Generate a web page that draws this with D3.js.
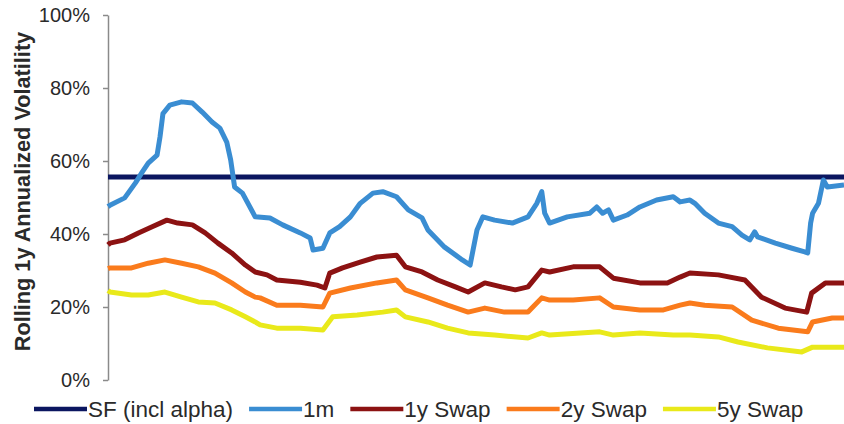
<!DOCTYPE html>
<html>
<head>
<meta charset="utf-8">
<script src="https://cdn.jsdelivr.net/npm/d3@7"></script>
<style>
  html, body { margin: 0; padding: 0; background: #fff; }
  svg { display: block; font-family: "Liberation Sans", Arial, sans-serif; }
</style>
</head>
<body>
<svg id="chart" width="844" height="424"></svg>
<script>
// Rolling 1y annualized volatility, trading-day index on the x axis
const seriesNames = ["SF (incl alpha)", "1m", "1y Swap", "2y Swap", "5y Swap"];
const seriesColors = ["#0b1660", "#3a8dd2", "#8c1212", "#fa7b1c", "#e9e91a"];

const sfLevel = 55.6;

const oneMDays = [0, 2, 17, 28, 35, 41, 50, 53, 56, 63, 75, 86, 96, 106, 114, 121, 125, 129, 137, 150,
  165, 178, 196, 206, 209, 219, 226, 236, 247, 257, 270, 280, 294, 306, 320, 326, 343, 361, 369, 376,
  382, 394, 412, 428, 437, 442, 445, 450, 468, 491, 498, 504, 510, 515, 529, 542, 559, 576, 583, 593,
  598, 608, 622, 636, 646, 654, 659, 662, 680, 697, 710, 713, 716, 718, 724, 729, 733, 750];
const oneMVals = [47.5, 47.9, 49.9, 54, 57, 59.4, 61.6, 66.6, 73, 75.3, 76.2, 75.9, 73.4, 70.7, 69, 65.2, 60.3, 52.9, 51.2, 44.7,
  44.4, 42.5, 40.3, 38.9, 35.6, 36.1, 40.3, 42, 44.7, 48.4, 51.2, 51.6, 50.2, 46.6, 44.4, 41.1, 36.4, 32.9, 31.5, 41.1,
  44.7, 43.8, 43, 44.7, 48.4, 51.6, 45.7, 43, 44.7, 45.7, 47.4, 45.7, 46.6, 43.8, 45.2, 47.4, 49.3, 50.2, 48.8, 49.3,
  48.4, 45.7, 43, 42, 39.7, 38.4, 40.6, 39.2, 37.5, 36.1, 35.1, 34.8, 43, 45.7, 48.4, 54.8, 52.9, 53.4];

const swap1yDays = [0, 2, 17, 31, 45, 60, 71, 86, 99, 112, 126, 140, 150, 162, 172, 196, 213, 221, 226, 239,
  257, 274, 294, 303, 320, 336, 354, 367, 384, 401, 415, 428, 442, 450, 474, 501, 515, 542, 570, 583,
  593, 622, 649, 666, 690, 712, 717, 731, 750];
const swap1yVals = [37, 37.5, 38.4, 40.3, 42, 43.8, 43, 42.5, 40.3, 37.5, 34.8, 31.5, 29.6, 28.8, 27.4, 26.8, 26, 25.2, 29.3, 30.7,
  32.3, 33.7, 34.2, 31, 29.6, 27.4, 25.5, 24.1, 26.6, 25.5, 24.7, 25.5, 30.1, 29.6, 31, 31, 27.9, 26.6, 26.6, 28.2,
  29.3, 28.8, 27.4, 22.7, 19.7, 18.6, 23.8, 26.6, 26.6];

const swap2yDays = [0, 2, 24, 41, 58, 75, 92, 109, 126, 140, 150, 155, 172, 196, 219, 226, 247, 274, 294, 303,
  326, 346, 367, 384, 404, 428, 442, 450, 474, 501, 515, 542, 566, 583, 593, 608, 636, 656, 683, 713,
  718, 738, 750];
const swap2yVals = [30.5, 30.7, 30.7, 32, 32.9, 32, 31, 29.3, 26.6, 24.1, 22.7, 22.5, 20.5, 20.5, 20, 23.8, 25.2, 26.6, 27.4, 24.7,
  22.5, 20.5, 18.6, 19.7, 18.6, 18.6, 22.5, 21.9, 21.9, 22.5, 20, 19.2, 19.2, 20.5, 21.1, 20.5, 20, 16.4, 14.2, 13.2,
  15.9, 17, 17];

const swap5yDays = [0, 2, 24, 41, 58, 75, 92, 109, 126, 140, 150, 155, 172, 196, 219, 229, 254, 280, 294, 303,
  326, 346, 367, 394, 428, 442, 450, 501, 515, 542, 576, 593, 622, 642, 672, 707, 718, 750];
const swap5yVals = [24.5, 24.1, 23.3, 23.3, 24.1, 22.7, 21.4, 21.1, 19.2, 17.3, 15.9, 15.1, 14.2, 14.2, 13.7, 17.3, 17.8, 18.6, 19.2, 17.3,
  15.9, 14.2, 12.9, 12.3, 11.5, 12.9, 12.3, 13.2, 12.3, 12.9, 12.3, 12.3, 11.8, 10.4, 8.8, 7.7, 9, 9];

const yTicks = [0, 20, 40, 60, 80, 100];
const yTitle = "Rolling 1y Annualized Volatility";

const svg = d3.select("#chart");
const x = d3.scaleLinear().domain([0, 750]).range([108, 844]);
const y = d3.scaleLinear().domain([0, 100]).range([380, 15]);

// y axis
const yAxis = svg.append("g")
  .attr("transform", `translate(${x(0)},0)`)
  .call(d3.axisLeft(y).tickValues(yTicks).tickFormat(d => d + "%").tickSize(5).tickSizeOuter(0).tickPadding(13));
yAxis.select(".domain").attr("stroke", "#8a8a8a").attr("stroke-width", 1.5);
yAxis.selectAll(".tick line").attr("stroke", "#8a8a8a").attr("stroke-width", 1.5);
yAxis.selectAll(".tick text")
  .attr("font-size", 20)
  .attr("fill", "#2a2a2a")
  .attr("font-family", "'Liberation Sans', Arial, sans-serif");

svg.append("text")
  .attr("transform", `translate(22,191.5) rotate(-90)`)
  .attr("text-anchor", "middle")
  .attr("dominant-baseline", "central")
  .attr("font-size", 21.7)
  .attr("font-weight", "bold")
  .attr("fill", "#2a2a2a")
  .text(yTitle);

// series lines
const line = d3.line().x(d => x(d[0])).y(d => y(d[1]));
const seriesData = [
  [[0, sfLevel], [750, sfLevel]],
  d3.zip(oneMDays, oneMVals),
  d3.zip(swap1yDays, swap1yVals),
  d3.zip(swap2yDays, swap2yVals),
  d3.zip(swap5yDays, swap5yVals)
];
const drawOrder = [4, 3, 2, 0, 1];
drawOrder.forEach(i => {
  svg.append("path")
    .datum(seriesData[i])
    .attr("fill", "none")
    .attr("stroke", seriesColors[i])
    .attr("stroke-width", 5)
    .attr("stroke-linejoin", "round")
    .attr("d", line);
});

// legend
const legendY = 409;
const swatch = 53;
let lx = 34;
seriesNames.forEach((name, i) => {
  const g = svg.append("g");
  g.append("line")
    .attr("x1", lx).attr("x2", lx + swatch)
    .attr("y1", legendY).attr("y2", legendY)
    .attr("stroke", seriesColors[i])
    .attr("stroke-width", 4.5);
  const t = g.append("text")
    .attr("x", lx + swatch + 1)
    .attr("y", legendY)
    .attr("dominant-baseline", "central")
    .attr("font-size", 22.5)
    .attr("fill", "#2a2a2a")
    .text(name);
  lx += swatch + 1 + t.node().getComputedTextLength() + 16;
});
</script>
</body>
</html>
